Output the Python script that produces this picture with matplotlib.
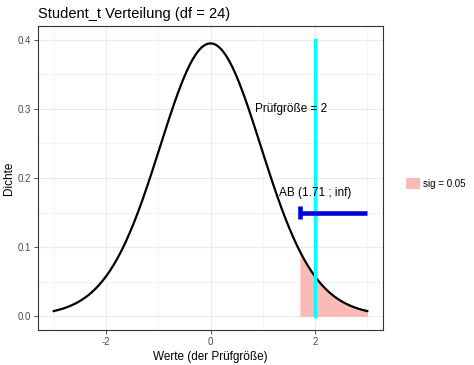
import math
import numpy as np
import matplotlib
matplotlib.use("Agg")
import matplotlib.pyplot as plt
from matplotlib.patches import Patch

plt.rcParams['font.family'] = ['Liberation Sans', 'DejaVu Sans']

# chart parameters
df = 24
x_range = [-3, 3]
crit = 1.71          # lower bound of rejection area (AB)
stat = 2             # test statistic
sig_label = "sig = 0.05"
xticks = [-2, 0, 2]
yticks = [0.0, 0.1, 0.2, 0.3, 0.4]
ab_y = 0.15


def t_pdf(x, v):
    c = math.gamma((v + 1) / 2) / (math.sqrt(v * math.pi) * math.gamma(v / 2))
    return c * (1 + x ** 2 / v) ** (-(v + 1) / 2)


x = np.linspace(x_range[0], x_range[1], 400)
y = t_pdf(x, df)

fig = plt.figure(figsize=(4.74, 3.65), dpi=100)
ax = fig.add_axes([0.0802, 0.0959, 0.7278, 0.8329])

# shaded rejection area
xs = x[x >= crit]
xs = np.concatenate([[crit], xs])
ax.fill_between(xs, 0, t_pdf(xs, df), color="#F8766D", alpha=0.5, lw=0, zorder=2)

ax.plot(x, y, color="black", lw=1.6, zorder=3)

# test statistic
ax.plot([stat, stat], [0, 0.4], color="cyan", lw=2.5, zorder=4)
ax.text(1.55, 0.30, "Prüfgröße = 2", ha="center", va="center", fontsize=8.5, zorder=5)

# AB interval
ax.plot([crit, x_range[1]], [ab_y, ab_y], color="#0000DD", lw=3.3, zorder=4, solid_capstyle="butt")
ax.plot([crit, crit], [ab_y - 0.0095, ab_y + 0.0095], color="#0000DD", lw=3.3, zorder=4, solid_capstyle="butt")
ax.text(2, 0.179, "AB (1.71 ; inf)", ha="center", va="center", fontsize=8.5, zorder=5)

ax.set_xlim(-3.3, 3.3)
ax.set_ylim(-0.02, 0.42)
ax.set_xticks(xticks)
ax.set_xticklabels([str(t) for t in xticks])
ax.set_yticks(yticks)
ax.set_xticks([-3, -1, 1, 3], minor=True)
ax.set_yticks([0.05, 0.15, 0.25, 0.35], minor=True)
ax.grid(which="major", color="#EBEBEB", lw=0.8, zorder=0)
ax.grid(which="minor", color="#EBEBEB", lw=0.4, zorder=0)
ax.set_axisbelow(True)
ax.tick_params(which="major", length=3, width=0.6, color="#333333", labelsize=7, labelcolor="#4D4D4D", pad=2)
ax.tick_params(which="minor", length=0)
for s in ax.spines.values():
    s.set_color("#333333")
    s.set_linewidth(0.8)

ax.set_xlabel("Werte (der Prüfgröße)", fontsize=8.5, labelpad=3)
ax.set_ylabel("Dichte", fontsize=8.5, labelpad=2)
ax.set_title("Student_t Verteilung (df = 24)", loc="left", fontsize=10.5, pad=6)

handles = [Patch(facecolor="#FBBAB6", edgecolor="none", label=sig_label)]
fig.legend(handles=handles, loc="center left", bbox_to_anchor=(0.838, 0.497),
           frameon=False, fontsize=7, handlelength=1.4, handleheight=1.4, handletextpad=0.4)

fig.savefig("out.png", dpi=100)
